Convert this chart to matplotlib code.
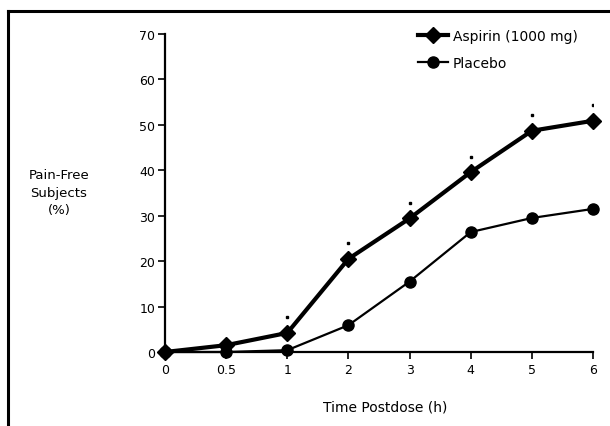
import matplotlib.pyplot as plt
from matplotlib.lines import Line2D

# Data
time_labels = ['0', '0.5', '1', '2', '3', '4', '5', '6']
aspirin = [0, 1.5, 4.2, 20.5, 29.4, 39.6, 48.7, 50.9]
placebo = [0, 0, 0.4, 5.9, 15.5, 26.4, 29.5, 31.5]
# time points marked significant (asterisk above the aspirin point)
signif = [False, False, True, True, True, True, True, True]

plt.rcParams['font.family'] = ['DejaVu Sans']

fig = plt.figure(figsize=(6.1, 4.27), dpi=100)
ax = fig.add_axes([165 / 610, 1 - 353 / 427, (593 - 165) / 610, (353 - 35) / 427])

x = list(range(len(time_labels)))
ax.plot(x, aspirin, color='black', lw=3, marker='D', markersize=8, clip_on=False, zorder=3)
ax.plot(x, placebo, color='black', lw=1.6, marker='o', markersize=8, clip_on=False, zorder=3)

sx = [xi for xi, s in zip(x, signif) if s]
sy = [a + 3.4 for a, s in zip(aspirin, signif) if s]
ax.plot(sx, sy, ls='none', marker='s', markersize=2, color='black')

ax.set_xlim(0, len(time_labels) - 1)
ax.set_ylim(0, 70)
ax.set_xticks(x)
ax.set_xticklabels(time_labels)
ax.set_yticks(range(0, 71, 10))
ax.tick_params(direction='out', length=5, width=1.2, labelsize=9, color='black')
ax.tick_params(axis='y', pad=2)
ax.tick_params(axis='x', pad=3)
ax.spines['top'].set_visible(False)
ax.spines['right'].set_visible(False)
ax.spines['left'].set_linewidth(1.6)
ax.spines['bottom'].set_linewidth(1.6)

fig.text(59 / 610, 1 - 193 / 427, 'Pain-Free\nSubjects\n(%)', ha='center', va='center',
         fontsize=9.5, linespacing=1.45)
fig.text(385 / 610, 1 - 408 / 427, 'Time Postdose (h)', ha='center', va='center', fontsize=10)

handles = [
    Line2D([], [], color='black', lw=3, marker='D', markersize=8),
    Line2D([], [], color='black', lw=1.6, marker='o', markersize=8),
]
fig.legend(handles, ['Aspirin (1000 mg)', 'Placebo'], loc='upper left',
           bbox_to_anchor=(411 / 610, 1 - 23 / 427), frameon=False, fontsize=10,
           handlelength=2.2, handletextpad=0.3, labelspacing=0.95, borderpad=0)

# partial outer frame (top and left edges)
fig.add_artist(Line2D([8 / 610, 8 / 610], [0, 1 - 12 / 427], color='black', lw=2.2,
                      transform=fig.transFigure))
fig.add_artist(Line2D([8 / 610, 1], [1 - 12 / 427, 1 - 12 / 427], color='black', lw=2.2,
                      transform=fig.transFigure))

fig.savefig('out.png', dpi=100)
